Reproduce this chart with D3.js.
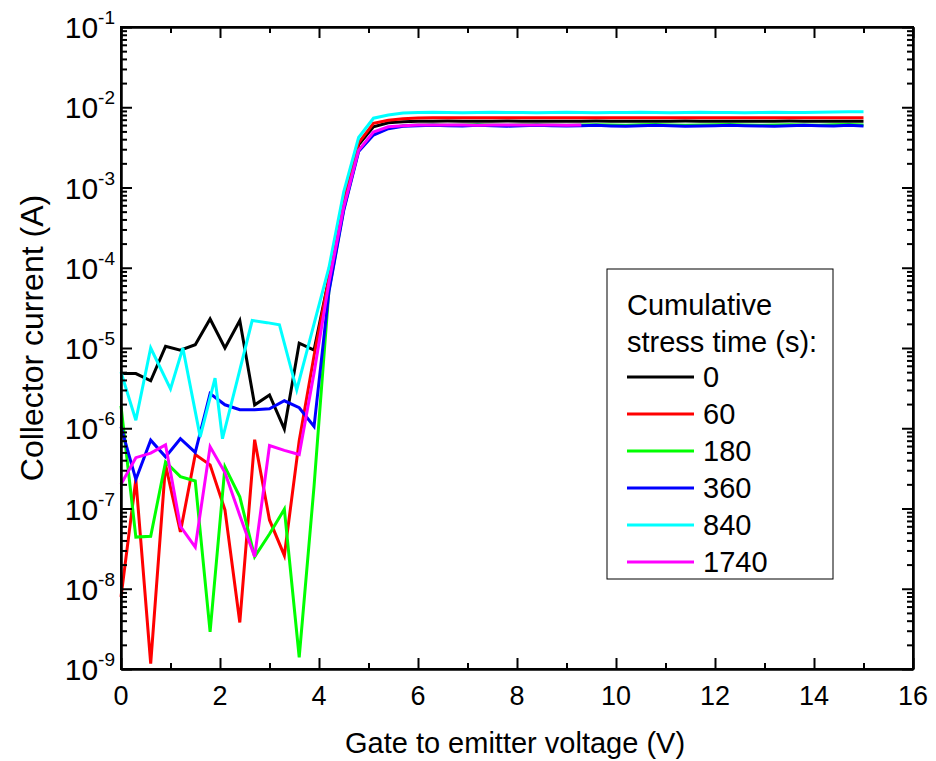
<!DOCTYPE html>
<html>
<head>
<meta charset="utf-8">
<script src="https://cdn.jsdelivr.net/npm/d3@7"></script>
<style>
  body { margin: 0; background: #fff; }
  svg { display: block; font-family: "Liberation Sans", Arial, sans-serif; }
  .ax path, .ax line { stroke: #000; stroke-width: 2; }
</style>
</head>
<body>
<div id="chart"></div>
<script>
// gate voltage sweep (V)
var volts = [0, 0.3, 0.6, 0.9, 1.2, 1.5, 1.8, 2.1, 2.4, 2.7, 3.0, 3.3, 3.6, 3.9, 4.2, 4.5, 4.8, 5.1, 5.4, 5.7,
  6.0, 6.3, 6.6, 6.9, 7.2, 7.5, 7.8, 8.1, 8.4, 8.7, 9.0, 9.3, 9.6, 9.9, 10.2, 10.5, 10.8, 11.1, 11.4, 11.7,
  12.0, 12.3, 12.6, 12.9, 13.2, 13.5, 13.8, 14.1, 14.4, 14.7, 15.0];
// the 840 s sweep was logged at slightly different voltages below 4 V
var voltsLow840 = [0, 0.3, 0.6, 1.0, 1.25, 1.6, 1.9, 2.05, 2.35, 2.65, 2.95, 3.2, 3.55, 3.9];

var stressTimes = ["0", "60", "180", "360", "840", "1740"];
var colors = ["#000000", "#ff0000", "#00ff00", "#0000ff", "#00ffff", "#ff00ff"];

// collector current (A)
var ic0 = [4.8e-6, 4.8e-6, 3.9e-6, 1.05e-5, 9.4e-6, 1.1e-5, 2.3e-5, 1.0e-5, 2.2e-5, 1.95e-6, 2.6e-6, 9.8e-7, 1.15e-5, 9.4e-6,
  7.4e-5, 7.0e-4, 3.4e-3, 5.7e-3, 6.4e-3, 6.6e-3,
  6.7e-3, 6.7e-3, 6.72e-3, 6.7e-3, 6.68e-3, 6.7e-3, 6.72e-3, 6.7e-3, 6.7e-3, 6.68e-3, 6.7e-3, 6.7e-3, 6.72e-3, 6.7e-3, 6.7e-3, 6.68e-3,
  6.7e-3, 6.7e-3, 6.72e-3, 6.7e-3, 6.7e-3, 6.7e-3, 6.68e-3, 6.7e-3, 6.7e-3, 6.72e-3, 6.7e-3, 6.7e-3, 6.7e-3, 6.68e-3, 6.7e-3];
var ic60 = [7.9e-9, 2.3e-7, 1.17e-9, 3.5e-7, 5.1e-8, 4.7e-7, 3.5e-7, 9.6e-8, 3.8e-9, 7.2e-7, 7.2e-8, 2.6e-8, 7.0e-7, 8.0e-6,
  7.4e-5, 7.4e-4, 3.6e-3, 6.3e-3, 6.9e-3, 7.2e-3,
  7.35e-3, 7.4e-3, 7.4e-3, 7.42e-3, 7.4e-3, 7.38e-3, 7.4e-3, 7.4e-3, 7.42e-3, 7.4e-3, 7.4e-3, 7.38e-3, 7.4e-3, 7.4e-3, 7.42e-3, 7.4e-3,
  7.4e-3, 7.4e-3, 7.38e-3, 7.4e-3, 7.42e-3, 7.4e-3, 7.4e-3, 7.4e-3, 7.38e-3, 7.4e-3, 7.42e-3, 7.4e-3, 7.4e-3, 7.4e-3, 7.42e-3];
var ic180 = [1.9e-6, 4.4e-8, 4.5e-8, 3.8e-7, 2.5e-7, 2.2e-7, 2.9e-9, 3.3e-7, 1.4e-7, 2.5e-8, 4.8e-8, 9.8e-8, 1.4e-9, 1.9e-7,
  5.2e-5, 5.4e-4, 2.9e-3, 4.6e-3, 5.5e-3, 5.9e-3,
  6.0e-3, 6.05e-3, 5.95e-3, 6.0e-3, 6.1e-3, 6.0e-3, 5.95e-3, 6.05e-3, 6.1e-3, 6.0e-3, 5.95e-3, 6.0e-3, 6.05e-3, 6.0e-3, 5.95e-3, 6.05e-3,
  6.1e-3, 6.0e-3, 5.95e-3, 6.0e-3, 6.05e-3, 6.1e-3, 6.0e-3, 5.95e-3, 6.0e-3, 6.05e-3, 6.0e-3, 5.95e-3, 6.05e-3, 6.1e-3, 6.0e-3];
var ic360 = [1.05e-6, 2.3e-7, 7.1e-7, 4.4e-7, 7.4e-7, 5.0e-7, 2.7e-6, 1.96e-6, 1.7e-6, 1.7e-6, 1.75e-6, 2.2e-6, 1.8e-6, 1.05e-6,
  5.0e-5, 5.2e-4, 2.8e-3, 4.5e-3, 5.4e-3, 5.8e-3,
  5.9e-3, 5.95e-3, 5.9e-3, 5.85e-3, 5.95e-3, 5.9e-3, 5.8e-3, 5.9e-3, 5.95e-3, 5.9e-3, 5.85e-3, 5.9e-3, 5.95e-3, 5.85e-3, 5.8e-3, 5.9e-3,
  5.95e-3, 5.9e-3, 5.8e-3, 5.85e-3, 5.9e-3, 5.95e-3, 5.9e-3, 5.85e-3, 5.8e-3, 5.9e-3, 5.95e-3, 5.9e-3, 5.85e-3, 5.95e-3, 5.85e-3];
var ic840 = [5.0e-6, 1.26e-6, 1.0e-5, 3.1e-6, 1.0e-5, 7.8e-7, 4.2e-6, 7.4e-7, 4.0e-6, 2.2e-5, 2.07e-5, 1.95e-5, 3.0e-6, 2.0e-5,
  1.0e-4, 8.8e-4, 4.2e-3, 7.3e-3, 8.0e-3, 8.5e-3,
  8.6e-3, 8.65e-3, 8.6e-3, 8.55e-3, 8.6e-3, 8.65e-3, 8.6e-3, 8.6e-3, 8.55e-3, 8.6e-3, 8.65e-3, 8.6e-3, 8.55e-3, 8.6e-3, 8.6e-3, 8.65e-3,
  8.6e-3, 8.55e-3, 8.6e-3, 8.65e-3, 8.6e-3, 8.6e-3, 8.55e-3, 8.6e-3, 8.65e-3, 8.6e-3, 8.6e-3, 8.65e-3, 8.75e-3, 8.8e-3, 8.8e-3];
// 1740 s sweep stops at 9.3 V
var ic1740 = [2.0e-7, 4.3e-7, 4.9e-7, 6.2e-7, 6.0e-8, 3.3e-8, 5.9e-7, 2.8e-7, 8.2e-8, 2.5e-8, 6.1e-7, 5.3e-7, 4.7e-7, 4.9e-6,
  6.5e-5, 5.7e-4, 2.9e-3, 4.9e-3, 5.7e-3, 5.9e-3,
  6.0e-3, 6.0e-3, 6.02e-3, 6.0e-3, 5.98e-3, 6.0e-3, 6.0e-3, 6.02e-3, 6.0e-3, 6.0e-3, 5.98e-3, 6.0e-3];

var xTicks = [0, 2, 4, 6, 8, 10, 12, 14, 16];
var yExponents = [-1, -2, -3, -4, -5, -6, -7, -8, -9];

var W = 936, H = 761;
var margin = { top: 27, right: 23, bottom: 92, left: 121 };
var w = W - margin.left - margin.right,
    h = H - margin.top - margin.bottom;

var x = d3.scaleLinear().domain([0, 16]).range([0, w]);
var y = d3.scaleLog().domain([1e-9, 1e-1]).range([h, 0]);

var svg = d3.select("#chart").append("svg").attr("width", W).attr("height", H);
var g = svg.append("g").attr("transform", "translate(" + margin.left + "," + margin.top + ")");

// series
var series = [
  { v: volts, i: ic0 },
  { v: volts, i: ic60 },
  { v: volts, i: ic180 },
  { v: volts, i: ic360 },
  { v: voltsLow840.concat(volts.slice(voltsLow840.length)), i: ic840 },
  { v: volts, i: ic1740 }
];

var line = d3.line()
  .x(function(d) { return x(d[0]); })
  .y(function(d) { return y(d[1]); });

g.append("g").selectAll("path")
  .data(series)
  .enter().append("path")
  .attr("fill", "none")
  .attr("stroke", function(d, k) { return colors[k]; })
  .attr("stroke-width", 3)
  .attr("stroke-linejoin", "miter")
  .attr("d", function(d) { return line(d.i.map(function(c, j) { return [d.v[j], c]; })); });

// minor x ticks, minor log ticks
var xMinor = d3.range(1, 16, 2);
var yMinor = [];
yExponents.slice(1).forEach(function(e) {
  for (var m = 2; m <= 9; m++) yMinor.push(m * Math.pow(10, e));
});

function noLabels(ax) { return ax.tickFormat(function() { return ""; }); }

g.append("g").attr("class", "ax").attr("transform", "translate(0," + h + ")")
  .call(noLabels(d3.axisBottom(x).tickValues(xTicks).tickSizeInner(-11).tickSizeOuter(0)));
g.append("g").attr("class", "ax").attr("transform", "translate(0," + h + ")")
  .call(noLabels(d3.axisBottom(x).tickValues(xMinor).tickSizeInner(-6).tickSizeOuter(0)));
g.append("g").attr("class", "ax")
  .call(noLabels(d3.axisTop(x).tickValues(xTicks).tickSizeInner(-11).tickSizeOuter(0)));
g.append("g").attr("class", "ax")
  .call(noLabels(d3.axisTop(x).tickValues(xMinor).tickSizeInner(-6).tickSizeOuter(0)));

var yMajor = yExponents.map(function(e) { return Math.pow(10, e); });
g.append("g").attr("class", "ax")
  .call(noLabels(d3.axisLeft(y).tickValues(yMajor).tickSizeInner(-11).tickSizeOuter(0)));
g.append("g").attr("class", "ax")
  .call(noLabels(d3.axisLeft(y).tickValues(yMinor).tickSizeInner(-6).tickSizeOuter(0)));
g.append("g").attr("class", "ax").attr("transform", "translate(" + w + ",0)")
  .call(noLabels(d3.axisRight(y).tickValues(yMajor).tickSizeInner(-11).tickSizeOuter(0)));
g.append("g").attr("class", "ax").attr("transform", "translate(" + w + ",0)")
  .call(noLabels(d3.axisRight(y).tickValues(yMinor).tickSizeInner(-6).tickSizeOuter(0)));

// frame
g.append("rect").attr("width", w).attr("height", h)
  .attr("fill", "none").attr("stroke", "#000").attr("stroke-width", 2);

// x tick labels
g.append("g").selectAll("text")
  .data(xTicks)
  .enter().append("text")
  .attr("x", function(d) { return x(d); })
  .attr("y", h + 36)
  .attr("text-anchor", "middle")
  .attr("font-size", 27)
  .text(function(d) { return d; });

// y tick labels, 10 with superscript exponent
var yl = g.append("g").selectAll("text")
  .data(yExponents)
  .enter().append("text")
  .attr("x", -6)
  .attr("y", function(e) { return y(Math.pow(10, e)) + 11; })
  .attr("text-anchor", "end")
  .attr("font-size", 30);
yl.append("tspan").text("10");
yl.append("tspan").attr("font-size", 19).attr("dy", -14).text(function(e) { return "-" + (-e); });

// axis titles
svg.append("text")
  .attr("x", margin.left + w / 2 - 2)
  .attr("y", H - 8)
  .attr("text-anchor", "middle")
  .attr("font-size", 29)
  .text("Gate to emitter voltage (V)");
svg.append("text")
  .attr("transform", "translate(43,338) rotate(-90)")
  .attr("text-anchor", "middle")
  .attr("font-size", 32)
  .text("Collector current (A)");

// legend
var lg = g.append("g").attr("transform", "translate(" + (607 - margin.left) + "," + (269 - margin.top) + ")");
lg.append("rect").attr("width", 226).attr("height", 310)
  .attr("fill", "#fff").attr("stroke", "#000").attr("stroke-width", 1);
lg.append("text").attr("x", 20).attr("y", 46).attr("font-size", 29).text("Cumulative");
lg.append("text").attr("x", 20).attr("y", 83).attr("font-size", 29).text("stress time (s):");
var rows = lg.selectAll(".row")
  .data(stressTimes)
  .enter().append("g")
  .attr("class", "row")
  .attr("transform", function(d, k) { return "translate(0," + (108 + k * 37) + ")"; });
rows.append("line")
  .attr("x1", 20).attr("x2", 87)
  .attr("stroke", function(d, k) { return colors[k]; })
  .attr("stroke-width", 3);
rows.append("text").attr("x", 96).attr("y", 10).attr("font-size", 29).text(function(d) { return d; });
</script>
</body>
</html>
